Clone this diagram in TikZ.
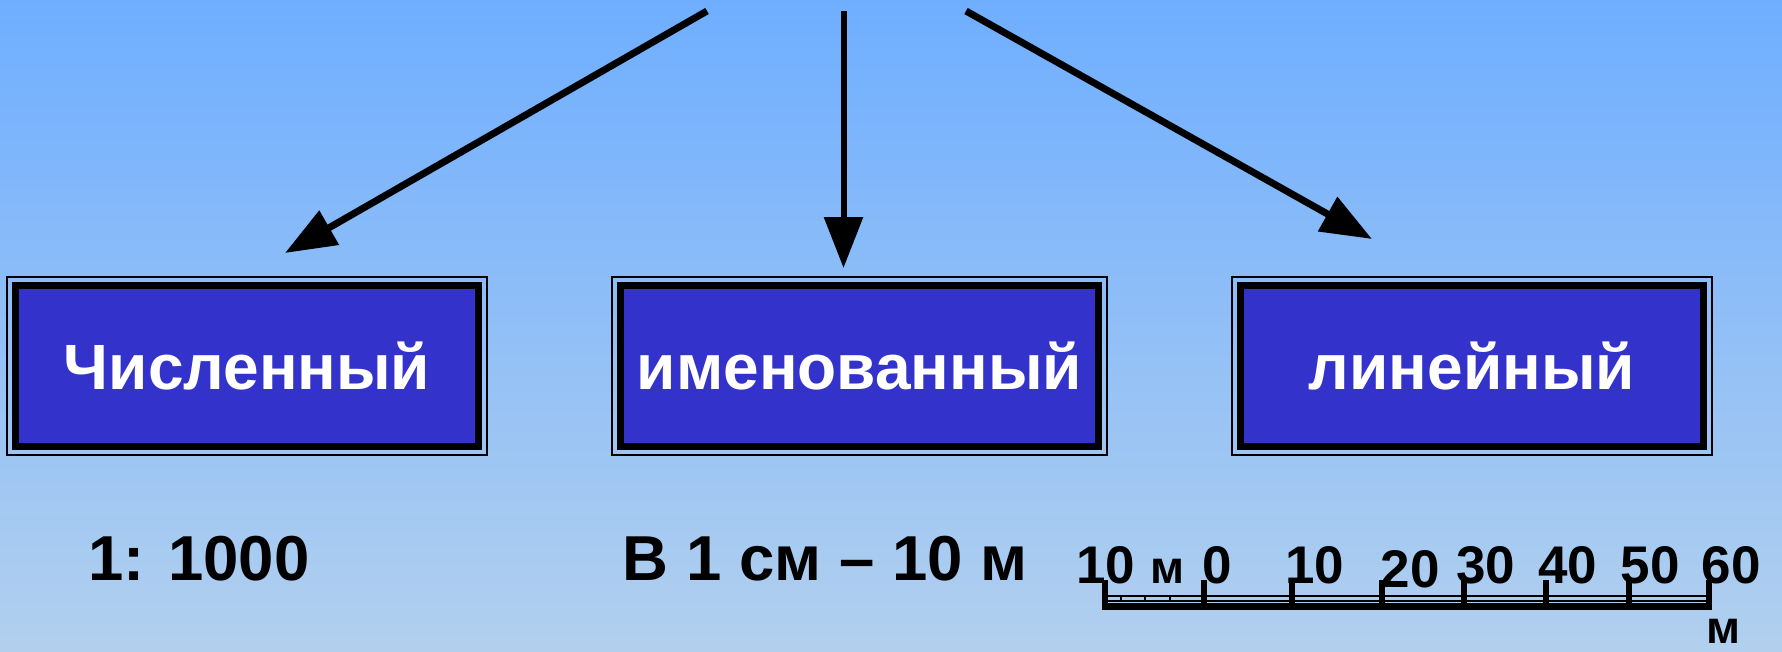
\documentclass[tikz,border=0pt]{standalone}
\usepackage{fontspec}
\setmainfont{Liberation Sans}
\usetikzlibrary{arrows.meta,calc}
\definecolor{boxblue}{RGB}{51,51,204}
\definecolor{bgtop}{RGB}{111,174,255}
\definecolor{bgmid}{RGB}{128,190,255}
\definecolor{bgbot}{RGB}{178,208,238}
\tikzset{
  catbox/.style={rectangle, fill=boxblue, draw=black, line width=7.5pt, inner sep=0pt, outer sep=0pt,
    minimum height=161pt, text=white, text height=47pt, text depth=0pt,
    font=\fontsize{64}{70}\selectfont\bfseries},
  outerline/.style={draw=black, line width=1.5pt},
  bigarrow/.style={draw=black, line width=7pt, -{Triangle[length=51pt,width=38pt]}},
  bottomtext/.style={anchor=base, inner sep=0pt, font=\fontsize{63.5}{70}\selectfont\bfseries},
  scalenum/.style={anchor=base, inner sep=0pt, font=\fontsize{53}{60}\selectfont\bfseries},
  scaleunit/.style={anchor=base, inner sep=0pt, font=\fontsize{46}{52}\selectfont\bfseries},
  majortick/.style={draw=black, line width=5.5pt},
  thinline/.style={draw=black, line width=1.5pt},
}
\begin{document}
\begin{tikzpicture}[x=1pt,y=-1pt]
\useasboundingbox (0,0) rectangle (1782,651);
\shade[top color=bgtop, middle color=bgmid, bottom color=bgbot] (0,0) rectangle (1782,651);

% boxes
\node[catbox, minimum width=463pt] (b1) at (247,366) {Численный};
\node[catbox, minimum width=478pt] (b2) at (859.5,366) {именованный};
\node[catbox, minimum width=463pt] (b3) at (1472,366) {линейный};
\foreach \b in {b1,b2,b3}{
  \draw[outerline] ($(\b.south west)+(-8.5pt,-8.5pt)$) rectangle ($(\b.north east)+(8.5pt,8.5pt)$);
}

% arrows
\coordinate (s1) at (707,11);
\coordinate (s2) at (843.5,11);
\coordinate (s3) at (966,11);
\coordinate (t1) at (285,253);
\coordinate (t2) at (843.5,268);
\coordinate (t3) at (1372,239);
\draw[bigarrow] (s1) -- (t1);
\draw[bigarrow, line width=6pt] (s2) -- (t2);
\draw[bigarrow] (s3) -- (t3);

% bottom texts
\node[bottomtext] (r1) at (199,580) {1: 1000};
\node[bottomtext] (r2) at (825,580) {В 1 см – 10 м};

% scale bar
\coordinate (sl) at (1105,606.5);
\coordinate (sr) at (1710,606.5);
\draw[black, line width=7pt] ($(sl)+(-1.5pt,0)$) -- ($(sr)+(1.5pt,0)$);
\draw[thinline] (1105,596) -- (1709,596);
\draw[thinline] (1105,601) -- (1709,601);
\foreach \x in {1121,1145,1170}{
  \draw[thinline] (\x,596) -- (\x,601);
}
\draw[majortick] (1105,580) -- (1105,610);
\foreach \x in {1204,1292,1382,1464,1546,1629,1709}{
  \draw[majortick] (\x,580) -- (\x,606);
}
\node[scalenum] (n1) at (1105.5,583) {10};
\node[scaleunit] (u1) at (1167.5,583) {м};
\node[scalenum] (n2) at (1217.5,583) {0};
\node[scalenum] (n3) at (1314.5,583) {10};
\node[scalenum] (n4) at (1410,587) {20};
\node[scalenum] (n5) at (1485.5,583) {30};
\node[scalenum] (n6) at (1567.5,583) {40};
\node[scalenum] (n7) at (1650,583) {50};
\node[scalenum] (n8) at (1731,583) {60};
\node[scaleunit] (u2) at (1723,643) {м};
\end{tikzpicture}
\end{document}
